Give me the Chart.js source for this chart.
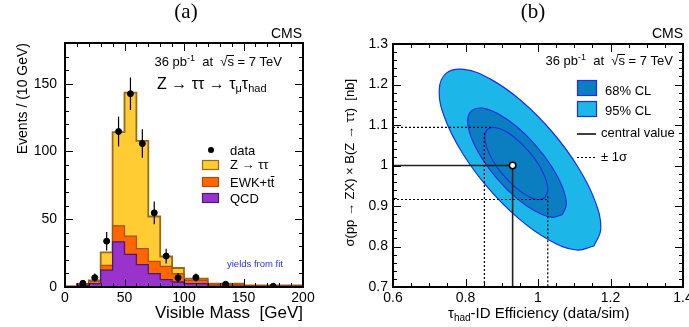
<!DOCTYPE html>
<html>
<head>
<meta charset="utf-8">
<script src="https://cdn.jsdelivr.net/npm/chart.js@4.4.1/dist/chart.umd.min.js"></script>
<style>
  body { margin: 0; background: #fff; }
  #wrap { position: relative; width: 689px; height: 327px; overflow: hidden; }
  canvas { position: absolute; top: 0; }
  #massChart { left: 0; }
  #fitChart { left: 335px; }
</style>
</head>
<body>
<div id="wrap">
  <canvas id="massChart" width="345" height="327"></canvas>
  <canvas id="fitChart" width="354" height="327"></canvas>
</div>
<script>
// ---- Panel (a): visible mass, events per 10 GeV ----
const binEdges = [0, 10, 20, 30, 40, 50, 60, 70, 80, 90, 100, 120, 150, 200];
const qcdYield = [0.3, 1.3, 2.5, 12.5, 33.3, 24, 16.5, 9.8, 5.4, 3.7, 2.5, 0.7, 0.4];
const ewkYield = [0.1, 0.8, 1.9, 3.4, 11.8, 13.5, 11.8, 9.1, 9.8, 6.1, 2.4, 1.3, 0.6];
const zttYield = [0.1, 0.2, 0.5, 9.7, 69.2, 105.9, 79.5, 33.1, 7.3, 4.2, 1.2, 0.5, 0.2];

const dataMass = [15, 25, 35, 45, 55, 65, 75, 85, 95, 110, 135, 175];
const dataEvents = [2.7, 6.9, 33.8, 114.7, 142.6, 105.8, 54.7, 22.8, 6.8, 7.0, 2.0, 0.5];
const dataErr = [2, 3, 6.8, 11, 12, 10.5, 8.4, 5.5, 3.5, 3, 1.2, 0.6];

const massTicks = [0, 50, 100, 150, 200];
const eventTicks = [0, 50, 100, 150];

// ---- Panel (b): fit result contours (efficiency, cross section) ----
const contour95 = [[1.1545, 0.8012], [1.1048, 0.7914], [1.0317, 0.8153], [0.9462, 0.8694],
  [0.8612, 0.9459], [0.7901, 1.0328], [0.7432, 1.1165], [0.7274, 1.1849], [0.7462, 1.2274],
  [0.7959, 1.2373], [0.8690, 1.2133], [0.9545, 1.1593], [1.0394, 1.0827], [1.1106, 0.9958],
  [1.1575, 0.9121], [1.1732, 0.8437]];
const contour68 = [[1.0670, 0.8783], [1.0372, 0.8723], [0.9928, 0.8869], [0.9407, 0.9195],
  [0.8888, 0.9657], [0.8452, 1.0183], [0.8163, 1.0686], [0.8061, 1.1099], [0.8171, 1.1356],
  [0.8469, 1.1415], [0.8913, 1.1269], [0.9434, 1.0943], [0.9953, 1.0481], [1.0389, 0.9956],
  [1.0679, 0.9452], [1.0781, 0.9040]];
const contour1s = [[1.0190, 0.9202], [0.9989, 0.9160], [0.9697, 0.9254], [0.9363, 0.9472],
  [0.9032, 0.9773], [0.8756, 1.0119], [0.8582, 1.0454], [0.8532, 1.0726], [0.8612, 1.0896],
  [0.8814, 1.0938], [0.9106, 1.0844], [0.9440, 1.0627], [0.9771, 1.0326], [1.0047, 0.9980],
  [1.0221, 0.9644], [1.0270, 0.9373]];

const centralValue = [0.93, 1.0];      // efficiency, cross section
const effSigma = [0.852, 1.027];       // -1 sigma, +1 sigma
const xsecSigma = [0.916, 1.094];
const effTicks = [0.6, 0.8, 1, 1.2, 1.4];
const xsecTicks = [0.7, 0.8, 0.9, 1, 1.1, 1.2, 1.3];

const FONT = '"Liberation Sans", Arial, Helvetica, sans-serif';
Chart.defaults.font.family = FONT;
Chart.defaults.color = '#000';

// helpers
function cumulate(...series) {
  return series[0].map((_, i) => series.reduce((s, arr) => s + arr[i], 0));
}
function stepPoints(values) {
  const pts = [{ x: binEdges[0], y: 0 }];
  values.forEach((v, i) => pts.push({ x: binEdges[i], y: v }));
  pts.push({ x: binEdges[binEdges.length - 1], y: values[values.length - 1] });
  return pts;
}
function loop(pairs) {
  const pts = pairs.map(p => ({ x: p[0], y: p[1] }));
  pts.push(pts[0]);
  return pts;
}
function seg(x1, y1, x2, y2) {
  return [{ x: x1, y: y1 }, { x: x2, y: y2 }];
}
const fmt = v => String(+Number(v).toFixed(2));

function rich(ctx, x, y, parts, align) {
  let w = 0;
  parts.forEach(p => { ctx.font = p.s + 'px ' + FONT; p.w = ctx.measureText(p.t).width; w += p.w; });
  let cx = align === 'right' ? x - w : align === 'center' ? x - w / 2 : x;
  parts.forEach(p => {
    ctx.font = p.s + 'px ' + FONT;
    ctx.fillText(p.t, cx, y + (p.dy || 0));
    if (p.over) {
      ctx.save();
      ctx.lineWidth = 1;
      ctx.beginPath();
      const oy = Math.round(y - p.s * 0.86) + 0.5;
      ctx.moveTo(cx - (p.over === 'root' ? 1 : 0), oy);
      ctx.lineTo(cx + p.w, oy);
      ctx.stroke();
      ctx.restore();
    }
    cx += p.w;
  });
}

function fixedScale(size, horizontal) {
  return function (scale) {
    if (horizontal) { scale.height = size; scale.paddingLeft = 0; scale.paddingRight = 0; }
    else { scale.width = size; scale.paddingTop = 0; scale.paddingBottom = 0; }
  };
}

// ROOT style frame with inward ticks on all four sides
function rootFrame(xMajor, xMinor, yMajor, yMinor) {
  const isMajor = (v, m) => Math.abs(v / m - Math.round(v / m)) < 1e-6;
  return {
    id: 'rootFrame',
    afterDatasetsDraw(chart) {
      const { ctx, chartArea: a, scales: { x, y } } = chart;
      ctx.save();
      ctx.strokeStyle = '#000';
      ctx.lineWidth = 1;
      ctx.beginPath();
      const nx = Math.round((x.max - x.min) / xMinor);
      for (let i = 0; i <= nx; i++) {
        const v = x.min + i * xMinor;
        const px = Math.round(x.getPixelForValue(v)) + 0.5;
        const len = isMajor(v, xMajor) ? 8 : 4;
        ctx.moveTo(px, a.bottom); ctx.lineTo(px, a.bottom - len);
        ctx.moveTo(px, a.top); ctx.lineTo(px, a.top + len);
      }
      const ny = Math.round((y.max - y.min) / yMinor);
      for (let i = 0; i <= ny; i++) {
        const v = y.min + i * yMinor;
        const py = Math.round(y.getPixelForValue(v)) + 0.5;
        const len = isMajor(v, yMajor) ? 8 : 4;
        ctx.moveTo(a.left, py); ctx.lineTo(a.left + len, py);
        ctx.moveTo(a.right, py); ctx.lineTo(a.right - len, py);
      }
      ctx.stroke();
      ctx.lineWidth = 2;
      ctx.strokeRect(a.left, a.top, a.right - a.left, a.bottom - a.top);
      ctx.restore();
    }
  };
}

// ---- Chart (a) ----
const ewkStack = cumulate(qcdYield, ewkYield);
const totalStack = cumulate(qcdYield, ewkYield, zttYield);

const errorBars = {
  id: 'errorBars',
  afterDatasetsDraw(chart) {
    const { ctx, scales: { x, y } } = chart;
    ctx.save();
    ctx.strokeStyle = '#000';
    ctx.lineWidth = 1.2;
    dataMass.forEach((m, i) => {
      const px = x.getPixelForValue(m);
      ctx.beginPath();
      ctx.moveTo(px, y.getPixelForValue(Math.max(0, dataEvents[i] - dataErr[i])));
      ctx.lineTo(px, y.getPixelForValue(dataEvents[i] + dataErr[i]));
      ctx.stroke();
    });
    ctx.restore();
  }
};

const massLabels = {
  id: 'massLabels',
  afterDraw(chart) {
    const ctx = chart.ctx;
    ctx.save();
    ctx.fillStyle = '#000';
    ctx.strokeStyle = '#000';
    ctx.font = '21px "Liberation Serif", "Times New Roman", serif';
    ctx.textAlign = 'center';
    ctx.fillText('(a)', 186, 18);
    ctx.textAlign = 'left';
    rich(ctx, 302, 38, [{ t: 'CMS', s: 14 }], 'right');
    rich(ctx, 282, 66, [{ t: '36 pb', s: 13 }, { t: '-1', s: 9, dy: -5 }, { t: '  at  ', s: 13 },
      { t: '\u221A', s: 13 }, { t: 's', s: 13, over: 'root' }, { t: ' = 7 TeV', s: 13 }], 'right');
    rich(ctx, 157, 89, [{ t: 'Z \u2192 \u03C4\u03C4 \u2192 \u03C4', s: 16 }, { t: '\u03BC', s: 11, dy: 3 },
      { t: '\u03C4', s: 16 }, { t: 'had', s: 11, dy: 3 }], 'left');

    // legend
    ctx.beginPath();
    ctx.arc(211, 150, 3, 0, Math.PI * 2);
    ctx.fill();
    const boxes = [['#ffcc33', '#9a6a12', 160], ['#ff6600', '#a8500c', 177], ['#9933cc', '#4a1a7a', 193]];
    boxes.forEach(([fill, line, top]) => {
      ctx.fillStyle = fill;
      ctx.fillRect(202, top, 17, 10);
      ctx.strokeStyle = line;
      ctx.lineWidth = 1.2;
      ctx.strokeRect(202.5, top + 0.5, 16, 9);
    });
    ctx.fillStyle = '#000';
    ctx.strokeStyle = '#000';
    rich(ctx, 230, 155, [{ t: 'data', s: 13 }]);
    rich(ctx, 230, 169, [{ t: 'Z \u2192 \u03C4\u03C4', s: 13 }]);
    rich(ctx, 230, 187, [{ t: 'EWK+t', s: 13 }, { t: 't', s: 13, over: true }]);
    rich(ctx, 230, 203, [{ t: 'QCD', s: 13 }]);

    ctx.fillStyle = '#2b2bff';
    rich(ctx, 227, 267, [{ t: 'yields from fit', s: 9.5 }]);

    // axis titles
    ctx.fillStyle = '#000';
    ctx.font = '14px ' + FONT;
    ctx.save();
    ctx.translate(23, 43);
    ctx.rotate(-Math.PI / 2);
    ctx.textAlign = 'right';
    ctx.textBaseline = 'middle';
    ctx.fillText('Events / (10 GeV)', 0, 0);
    ctx.restore();
    ctx.font = '17px ' + FONT;
    ctx.textAlign = 'right';
    ctx.fillText('Visible Mass  [GeV]', 303, 318);
    ctx.restore();
  }
};

new Chart(document.getElementById('massChart'), {
  type: 'line',
  data: {
    datasets: [
      { label: 'data', type: 'scatter', data: dataMass.map((m, i) => ({ x: m, y: dataEvents[i] })),
        backgroundColor: '#000', borderColor: '#000', pointRadius: 3, order: 0 },
      { label: 'QCD', data: stepPoints(qcdYield), stepped: 'before', fill: 'origin',
        backgroundColor: '#9933cc', borderColor: '#4a1a7a', borderWidth: 1.3, pointRadius: 0, order: 1 },
      { label: 'EWK+tt', data: stepPoints(ewkStack), stepped: 'before', fill: 'origin',
        backgroundColor: '#ff6600', borderColor: '#a8500c', borderWidth: 1.2, pointRadius: 0, order: 2 },
      { label: 'Z->tautau', data: stepPoints(totalStack), stepped: 'before', fill: 'origin',
        backgroundColor: '#ffcc33', borderColor: '#9a6a12', borderWidth: 1.8, pointRadius: 0, order: 3 }
    ]
  },
  options: {
    responsive: false,
    animation: false,
    layout: { padding: { left: 0, top: 43, right: 42, bottom: 0 } },
    plugins: { legend: { display: false }, tooltip: { enabled: false } },
    scales: {
      x: {
        type: 'linear', min: 0, max: 200,
        grid: { display: false, drawTicks: false }, border: { display: false },
        ticks: { font: { size: 14 }, padding: 3, maxRotation: 0, callback: fmt },
        afterBuildTicks: s => { s.ticks = massTicks.map(v => ({ value: v })); },
        afterFit: fixedScale(40, true)
      },
      y: {
        type: 'linear', min: 0, max: 180,
        grid: { display: false, drawTicks: false }, border: { display: false },
        ticks: { font: { size: 14 }, padding: 8, callback: fmt },
        afterBuildTicks: s => { s.ticks = eventTicks.map(v => ({ value: v })); },
        afterFit: fixedScale(65, false)
      }
    }
  },
  plugins: [errorBars, rootFrame(50, 10, 50, 10), massLabels]
});

// ---- Chart (b) ----
const LIGHT = '#1cb6e8';
const DARK = '#0b7dc1';
const EDGE = '#1f2fe6';

const fitLabels = {
  id: 'fitLabels',
  afterDraw(chart) {
    const ctx = chart.ctx;
    ctx.save();
    ctx.fillStyle = '#000';
    ctx.strokeStyle = '#000';
    ctx.font = '21px "Liberation Serif", "Times New Roman", serif';
    ctx.textAlign = 'center';
    ctx.fillText('(b)', 198, 18);
    ctx.textAlign = 'left';
    rich(ctx, 348, 38, [{ t: 'CMS', s: 14 }], 'right');
    rich(ctx, 338, 65, [{ t: '36 pb', s: 13 }, { t: '-1', s: 9, dy: -5 }, { t: '  at  ', s: 13 },
      { t: '\u221A', s: 13 }, { t: 's', s: 13, over: 'root' }, { t: ' = 7 TeV', s: 13 }], 'right');

    // legend
    [[DARK, 80], [LIGHT, 101]].forEach(([fill, top]) => {
      ctx.fillStyle = fill;
      ctx.fillRect(242, top, 20, 16);
      ctx.strokeStyle = EDGE;
      ctx.lineWidth = 1.2;
      ctx.strokeRect(242.5, top + 0.5, 19, 15);
    });
    ctx.fillStyle = '#000';
    ctx.strokeStyle = '#000';
    rich(ctx, 270, 95, [{ t: '68% CL', s: 13 }]);
    rich(ctx, 270, 115, [{ t: '95% CL', s: 13 }]);
    ctx.lineWidth = 1.5;
    ctx.beginPath(); ctx.moveTo(242, 134); ctx.lineTo(261, 134); ctx.stroke();
    ctx.lineWidth = 1.2;
    ctx.setLineDash([2, 2]);
    ctx.beginPath(); ctx.moveTo(242, 157.5); ctx.lineTo(260, 157.5); ctx.stroke();
    ctx.setLineDash([]);
    rich(ctx, 266, 137, [{ t: 'central value', s: 13 }]);
    rich(ctx, 266, 161, [{ t: '\u00B1 1\u03C3', s: 13 }]);

    // axis titles
    ctx.font = '13px ' + FONT;
    ctx.save();
    ctx.translate(15, 79);
    ctx.rotate(-Math.PI / 2);
    ctx.textAlign = 'right';
    ctx.textBaseline = 'middle';
    ctx.fillText('\u03C3(pp \u2192 ZX) \u00D7 B(Z \u2192 \u03C4\u03C4)  [nb]', 0, 0);
    ctx.restore();
    rich(ctx, 113, 318, [{ t: '\u03C4', s: 15 }, { t: 'had', s: 10, dy: 3 },
      { t: '-ID Efficiency (data/sim)', s: 15 }]);
    ctx.restore();
  }
};

const lineStyle = { borderColor: '#222', borderWidth: 1.6, pointRadius: 0, fill: false };
const dotStyle = { borderColor: '#000', borderWidth: 1.2, borderDash: [2, 2], pointRadius: 0, fill: false };

new Chart(document.getElementById('fitChart'), {
  type: 'line',
  data: {
    datasets: [
      { label: 'central', type: 'scatter', data: [{ x: centralValue[0], y: centralValue[1] }],
        backgroundColor: '#fff', borderColor: '#000', borderWidth: 1.5, pointRadius: 3.2, order: 0 },
      { label: 'central-h', data: seg(0.6, centralValue[1], centralValue[0], centralValue[1]), ...lineStyle, order: 1 },
      { label: 'central-v', data: seg(centralValue[0], centralValue[1], centralValue[0], 0.7), ...lineStyle, order: 1 },
      { label: 'up-h', data: seg(0.6, xsecSigma[1], 0.876, xsecSigma[1]), ...dotStyle, order: 2 },
      { label: 'up-v', data: seg(effSigma[0], 1.08, effSigma[0], 0.7), ...dotStyle, order: 2 },
      { label: 'dn-h', data: seg(0.6, xsecSigma[0], effSigma[1], xsecSigma[0]), ...dotStyle, order: 2 },
      { label: 'dn-v', data: seg(effSigma[1], 0.924, effSigma[1], 0.7), ...dotStyle, order: 2 },
      { label: 'inner', data: loop(contour1s), tension: 0.4, fill: false,
        borderColor: EDGE, borderWidth: 1.2, pointRadius: 0, order: 3 },
      { label: '68% CL', data: loop(contour68), tension: 0.4, fill: 'shape',
        backgroundColor: DARK, borderColor: EDGE, borderWidth: 1.2, pointRadius: 0, order: 4 },
      { label: '95% CL', data: loop(contour95), tension: 0.4, fill: 'shape',
        backgroundColor: LIGHT, borderColor: EDGE, borderWidth: 1.2, pointRadius: 0, order: 5 }
    ]
  },
  options: {
    responsive: false,
    animation: false,
    layout: { padding: { left: 0, top: 44, right: 6, bottom: 0 } },
    plugins: { legend: { display: false }, tooltip: { enabled: false } },
    scales: {
      x: {
        type: 'linear', min: 0.6, max: 1.4,
        grid: { display: false, drawTicks: false }, border: { display: false },
        ticks: { font: { size: 14 }, padding: 3, maxRotation: 0, callback: fmt },
        afterBuildTicks: s => { s.ticks = effTicks.map(v => ({ value: v })); },
        afterFit: fixedScale(40, true)
      },
      y: {
        type: 'linear', min: 0.7, max: 1.3,
        grid: { display: false, drawTicks: false }, border: { display: false },
        ticks: { font: { size: 14 }, padding: 5, callback: fmt },
        afterBuildTicks: s => { s.ticks = xsecTicks.map(v => ({ value: v })); },
        afterFit: fixedScale(58, false)
      }
    }
  },
  plugins: [rootFrame(0.2, 0.05, 0.1, 0.02), fitLabels]
});
</script>
</body>
</html>
